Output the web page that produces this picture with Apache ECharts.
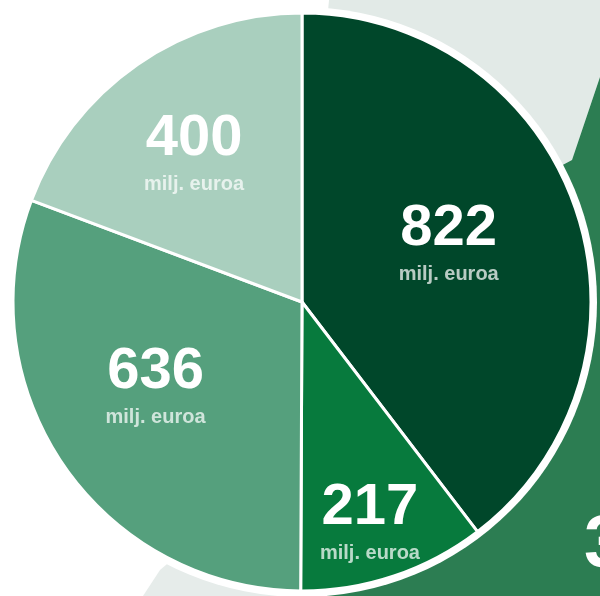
<!DOCTYPE html>
<html>
<head>
<meta charset="utf-8">
<script src="https://cdn.jsdelivr.net/npm/echarts@6/dist/echarts.min.js"></script>
<style>html,body{margin:0;padding:0;background:#fff;}#c{width:600px;height:596px;}</style>
</head>
<body>
<div id="c"></div>
<script>
// Data
var categories = ['A', 'B', 'C', 'D'];
var values = [822, 217, 636, 400];
var unitLabel = 'milj. euroa';
var sliceColors = ['#00472a', '#077a3d', '#55a07d', '#a9cfbe'];
// label nudges (pixels) relative to default inside position
var labelNudge = [[7, -10], [21, 82], [-25, 2], [-24, -26]];

var cx = 302, cy = 302, R = 289;

var chart = echarts.init(document.getElementById('c'), null, {renderer: 'canvas'});
chart.setOption({
  backgroundColor: '#ffffff',
  animation: false,
  graphic: [
    {type: 'polygon', z: 0, shape: {points: [[329,0],[600,0],[600,77],[572,160],[302,303]]}, style: {fill: '#e2eae7'}},
    {type: 'polygon', z: 0, shape: {points: [[600,77],[572,160],[302,303],[312,596],[600,596]]}, style: {fill: '#2c7d52'}},
    {type: 'polygon', z: 0, shape: {points: [[160,570],[143,596],[302,596],[302,450]]}, style: {fill: '#e6ecea'}},
    {type: 'circle', z: 1, shape: {cx: cx, cy: cy, r: R + 6}, style: {fill: '#ffffff'}},
    {type: 'text', z: 1, x: 584, y: 584, style: {text: '3', fill: '#ffffff', font: 'bold 74px "Liberation Sans", Arial, sans-serif', textAlign: 'left', textVerticalAlign: 'bottom'}}
  ],
  series: [{
    type: 'pie',
    center: [cx, cy],
    radius: [0, R],
    startAngle: 90,
    clockwise: true,
    silent: true,
    itemStyle: {borderColor: '#ffffff', borderWidth: 3},
    label: {
      show: true,
      position: 'inside',
      formatter: function (p) { return '{v|' + p.value + '}\n{u|' + unitLabel + '}'; },
      rich: {
        v: {fontFamily: '"Liberation Sans", Arial, sans-serif', fontWeight: 'bold', fontSize: 58, color: '#ffffff', lineHeight: 60, align: 'center'},
        u: {fontFamily: '"Liberation Sans", Arial, sans-serif', fontWeight: 'bold', fontSize: 20, color: 'rgba(255,255,255,0.72)', lineHeight: 32, align: 'center'}
      }
    },
    labelLine: {show: false},
    labelLayout: function (p) {
      var n = labelNudge[p.dataIndex];
      return {dx: n[0], dy: n[1]};
    },
    data: categories.map(function (c, i) {
      return {name: c, value: values[i], itemStyle: {color: sliceColors[i]}};
    })
  }]
});
</script>
</body>
</html>
